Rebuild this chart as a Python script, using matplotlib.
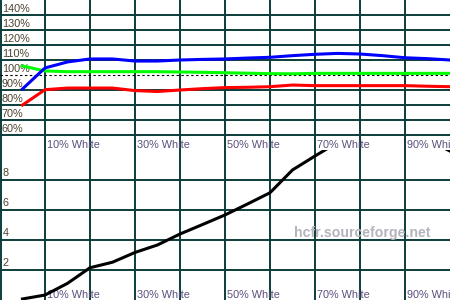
import matplotlib
matplotlib.use("Agg")
import matplotlib.pyplot as plt
import matplotlib.transforms as mtransforms

plt.rcParams['font.family'] = ['Liberation Sans', 'DejaVu Sans']

# ---- data ----
levels = [5, 10, 15, 20, 25, 30, 35, 40, 45, 50, 55, 60, 65, 70, 75, 80, 85, 90, 95, 100]
red_pct = [80.0, 90.2, 91.3, 91.3, 91.3, 89.6, 89.0, 90.0, 90.9, 91.6, 91.8, 92.2,
           93.3, 92.9, 92.9, 92.9, 92.9, 92.9, 92.5, 92.2]
green_pct = [106.0, 102.7, 102.2, 102.2, 102.2, 102.2, 102.2, 102.0, 101.8, 101.5, 101.2, 100.9,
             100.8, 101.1, 101.1, 101.1, 101.1, 101.1, 101.1, 101.1]
blue_pct = [90.7, 104.7, 108.7, 110.7, 110.7, 109.3, 109.3, 110.0, 110.4, 110.7, 111.3, 111.8,
            112.9, 113.8, 114.4, 114.0, 112.9, 111.5, 110.9, 110.0]
luminance = [0.07, 0.33, 1.11, 2.15, 2.52, 3.17, 3.67, 4.4, 5.03, 5.67, 6.4, 7.15,
             8.67, 9.6, 10.5, 11.0, 11.1, 11.0, 10.7, 9.93]

pct_ticks = [140, 130, 120, 110, 100, 90, 80, 70, 60]
pct_labels = ["140%", "130%", "120%", "110%", "100%", "90%", "80%", "70%", "60%"]
lum_ticks = [8, 6, 4, 2]
lum_labels = ["8", "6", "4", "2"]
x_grid = [10, 20, 30, 40, 50, 60, 70, 80, 90]
x_label_pos = [10, 30, 50, 70, 90]
x_labels = ["10% White", "30% White", "50% White", "70% White", "90% White"]

grid_col = '#0b3d3a'
ylab_col = '#4d4230'
xlab_col = '#5b4f7d'
fs = 7.8

fig = plt.figure(figsize=(4.5, 3.0), dpi=100)
ax1 = fig.add_axes([0, 0.5, 1, 0.5])
ax2 = fig.add_axes([0, 0.0, 1, 0.5])

for ax in (ax1, ax2):
    ax.set_xlim(0, 100)
    ax.set_xticks([])
    ax.set_yticks([])
    for s in ax.spines.values():
        s.set_visible(False)
    ax.axvline(0.15, color=grid_col, lw=1.4, zorder=1)
    for xv in x_grid:
        ax.axvline(xv, color=grid_col, lw=1.4, zorder=1)
    ax.patch.set_alpha(0)

ax1.set_ylim(50, 150)
ax2.set_ylim(0, 10)

# top panel grid
for v in pct_ticks:
    if v == 100:
        ax1.axhline(v, color='black', lw=0.8, ls=(0, (2.2, 2.2)), zorder=2)
    else:
        ax1.axhline(v, color=grid_col, lw=1.4, zorder=1)
for v in lum_ticks:
    ax2.axhline(v, color=grid_col, lw=1.4, zorder=1)

# y labels
tr1 = mtransforms.blended_transform_factory(ax1.transAxes, ax1.transData)
for v, lab in zip(pct_ticks, pct_labels):
    ax1.text(0.004, v + 0.8, lab, transform=tr1, ha='left', va='bottom',
             fontsize=fs, color=ylab_col, zorder=3)
tr2 = mtransforms.blended_transform_factory(ax2.transAxes, ax2.transData)
for v, lab in zip(lum_ticks, lum_labels):
    ax2.text(0.006, v + 0.1, lab, transform=tr2, ha='left', va='bottom',
             fontsize=fs, color=ylab_col, zorder=3)

# x labels in both panels
for ax in (ax1, ax2):
    trx = mtransforms.blended_transform_factory(ax.transData, ax.transAxes)
    for xv, lab in zip(x_label_pos, x_labels):
        ax.text(xv + 0.5, 0.003, lab, transform=trx, ha='left', va='bottom',
                fontsize=fs, color=xlab_col, zorder=3)

# curves
ax1.plot(levels, red_pct, color='#ff0000', lw=2.2, zorder=4, solid_joinstyle='round')
ax1.plot(levels, green_pct, color='#00ff00', lw=2.2, zorder=4, solid_joinstyle='round')
ax1.plot(levels, blue_pct, color='#0000ff', lw=2.2, zorder=5, solid_joinstyle='round')

ax2.plot(levels, luminance, color='black', lw=2.2, zorder=4, solid_joinstyle='round')

# watermark
ax2.text(80.4, 4.47, "hcfr.sourceforge.net", ha='center', va='center',
         fontsize=10.2, fontweight='bold', color='#b4b4bc', zorder=3)

fig.savefig('out.png', dpi=100)
